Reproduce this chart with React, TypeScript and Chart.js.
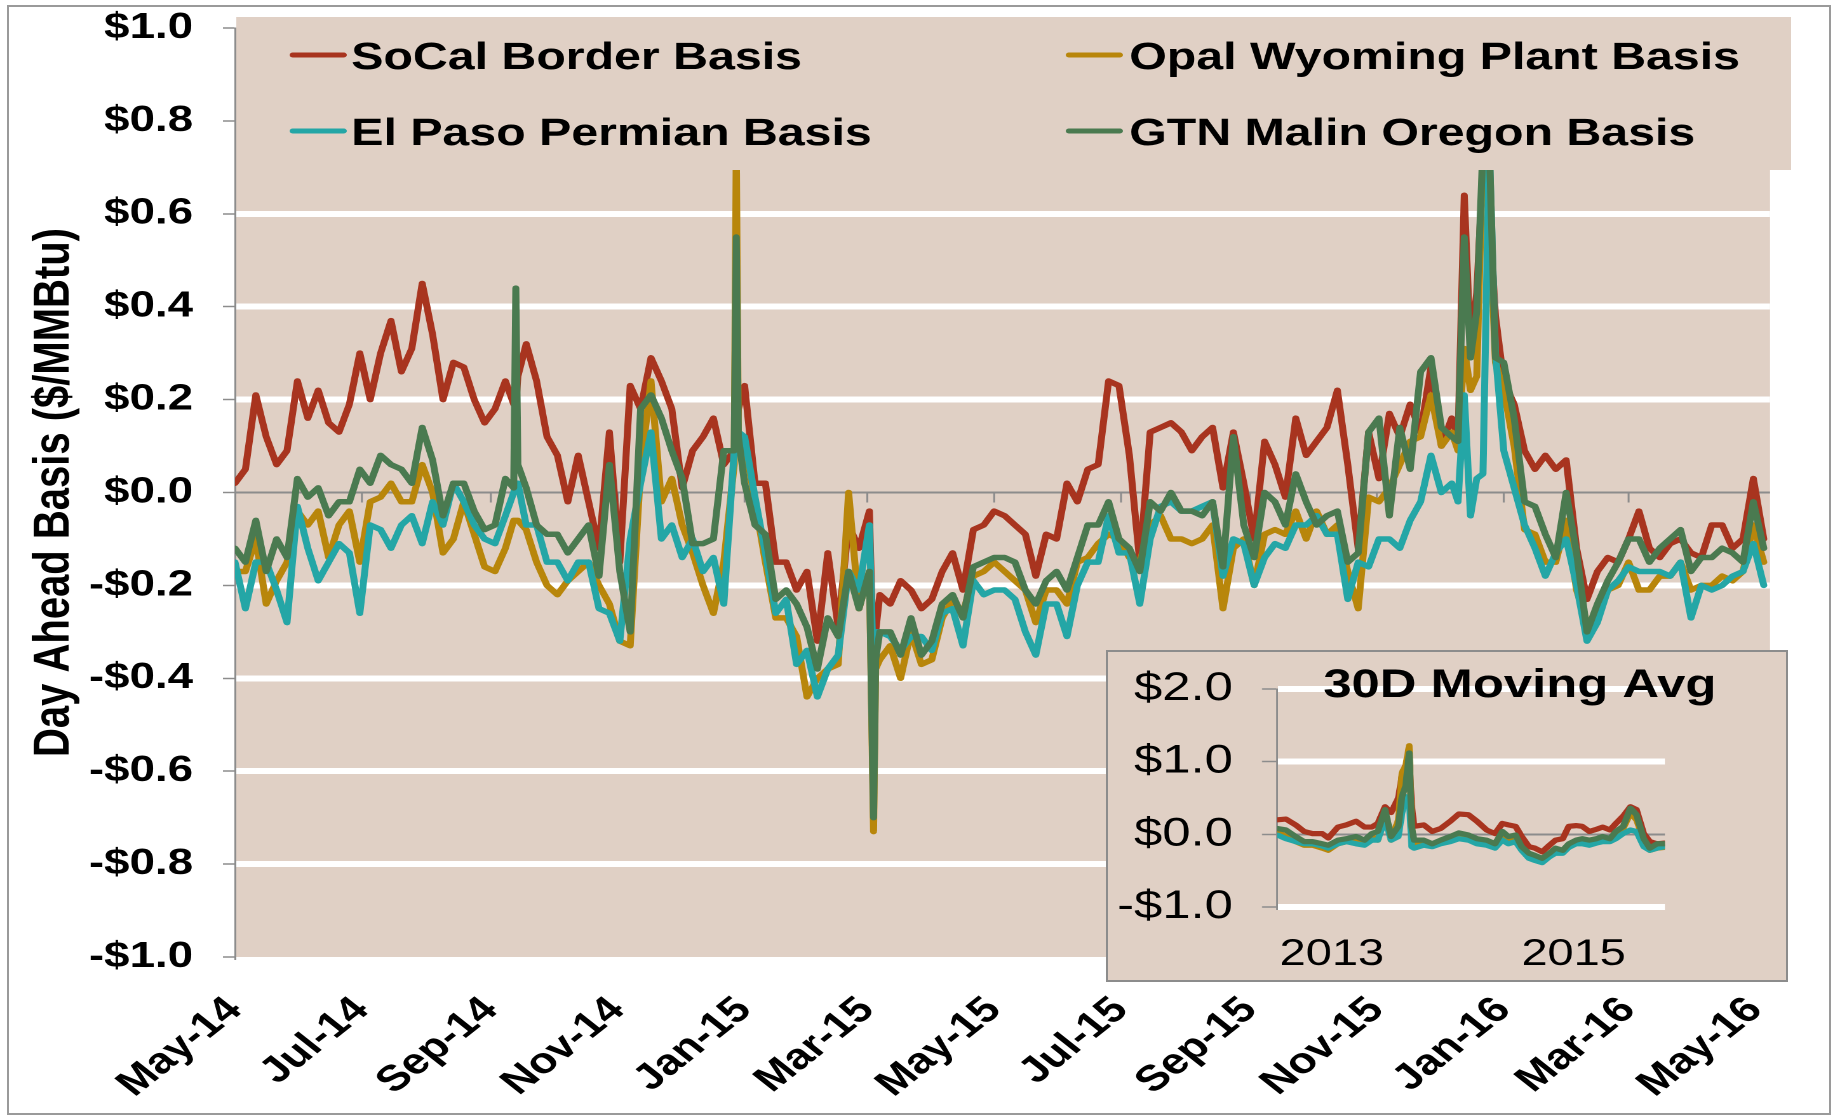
import React, { useEffect, useRef } from "react";
import { Chart, registerables } from "chart.js";

Chart.register(...registerables);

const FONT = "'Liberation Sans', Arial, Helvetica, sans-serif";

// ---------------- data ----------------
const seriesLabels = [
  "SoCal Border Basis",
  "Opal Wyoming Plant Basis",
  "El Paso Permian Basis",
  "GTN Malin Oregon Basis",
];
const seriesColors = ["#A8341F", "#B8860B", "#24A6A6", "#4A7A50"];

// x tick positions: days since 1 May 2014
const tickDays = [0, 61, 123, 184, 245, 304, 365, 426, 488, 549, 610, 670, 731];
const tickLabels = [
  "May-14", "Jul-14", "Sep-14", "Nov-14", "Jan-15", "Mar-15", "May-15",
  "Jul-15", "Sep-15", "Nov-15", "Jan-16", "Mar-16", "May-16",
];
const yTicks = [-1, -0.8, -0.6, -0.4, -0.2, 0, 0.2, 0.4, 0.6, 0.8, 1];

// observation days (days since 1 May 2014)
const days = [
  0, 5, 10, 15, 20, 25, 30, 35, 40, 45, 50, 55, 60, 65, 70, 75, 80, 85, 90, 95, 100, 105, 110, 115, 120, 125, 130,
  134, 135, 136,
  140, 145, 150, 155, 160, 165, 170, 175, 180, 185, 190, 195, 200, 205, 210, 215, 220, 225, 230, 235, 240,
  241, 242,
  245, 250, 255, 260, 265, 270, 275, 280, 285, 290, 295, 300, 305,
  307, 308,
  310, 315, 320, 325, 330, 335, 340, 345, 350, 355, 360, 365, 370, 375, 380, 385, 390, 395, 400, 405,
  410, 415, 420, 425, 430, 435, 440, 445, 450, 455, 460, 465, 470, 475, 480, 485, 490, 495, 500, 505,
  510, 515, 520, 525, 530, 535, 540, 545, 550, 555, 560, 565, 570, 575, 580, 585,
  588, 591, 594, 597, 600, 603, 606,
  610, 615,
  620, 625, 630, 635, 640, 645, 650, 655, 660, 665, 670, 675, 680, 685, 690, 695, 700, 705, 710, 715, 720, 725, 730, 735,
];

const socalBasis = [
  0.02, 0.05, 0.21, 0.12, 0.06, 0.09, 0.24, 0.16, 0.22, 0.15, 0.13, 0.19, 0.30, 0.20, 0.30, 0.37, 0.26, 0.31, 0.45, 0.34, 0.20, 0.28, 0.27, 0.20, 0.15, 0.18, 0.24,
  0.19, 0.19, 0.25,
  0.32, 0.24, 0.12, 0.08, -0.02, 0.08, -0.02, -0.12, 0.13, -0.15, 0.23, 0.18, 0.29, 0.24, 0.18, 0.01, 0.09, 0.12, 0.16, 0.06, 0.09,
  0.10, 0.18,
  0.23, 0.02, 0.02, -0.15, -0.15, -0.21, -0.17, -0.32, -0.13, -0.29, -0.07, -0.12, -0.04,
  -0.37, -0.30,
  -0.22, -0.24, -0.19, -0.21, -0.25, -0.23, -0.17, -0.13, -0.21, -0.08, -0.07, -0.04, -0.05, -0.07, -0.09, -0.18, -0.09, -0.10, 0.02, -0.02,
  0.05, 0.06, 0.24, 0.23, 0.08, -0.15, 0.13, 0.14, 0.15, 0.13, 0.09, 0.12, 0.14, 0.01, 0.13, 0.02, -0.10, 0.11, 0.06, -0.01,
  0.16, 0.08, 0.11, 0.14, 0.22, 0.06, -0.12, 0.13, 0.03, 0.17, 0.12, 0.19, 0.13, 0.27, 0.10, 0.16,
  0.12, 0.64, 0.31, 0.43, 0.70, 0.60, 0.38,
  0.24, 0.19,
  0.09, 0.05, 0.08, 0.05, 0.07, -0.12, -0.23, -0.17, -0.14, -0.15, -0.10, -0.04, -0.12, -0.14, -0.11, -0.10, -0.13, -0.14, -0.07, -0.07, -0.12, -0.10, 0.03, -0.10,
];

const opalBasis = [
  -0.17, -0.17, -0.10, -0.24, -0.19, -0.15, -0.04, -0.07, -0.04, -0.14, -0.07, -0.04, -0.15, -0.02, -0.01, 0.02, -0.02, -0.02, 0.06, 0.00, -0.13, -0.10, -0.02, -0.09, -0.16, -0.17, -0.12,
  -0.06, -0.06, -0.06,
  -0.08, -0.15, -0.20, -0.22, -0.19, -0.17, -0.15, -0.20, -0.24, -0.32, -0.33, 0.05, 0.24, -0.02, 0.03, -0.07, -0.13, -0.20, -0.26, -0.15, 0.06,
  0.75, 0.10,
  0.11, -0.02, -0.15, -0.27, -0.27, -0.31, -0.44, -0.40, -0.38, -0.37, 0.00, -0.25, -0.17,
  -0.73, -0.38,
  -0.36, -0.33, -0.40, -0.30, -0.37, -0.36, -0.27, -0.23, -0.26, -0.18, -0.17, -0.15, -0.17, -0.19, -0.21, -0.28, -0.21, -0.21, -0.24, -0.15,
  -0.14, -0.11, -0.09, -0.10, -0.14, -0.15, -0.07, -0.05, -0.10, -0.10, -0.11, -0.10, -0.07, -0.25, -0.12, -0.10, -0.20, -0.09, -0.08, -0.09,
  -0.04, -0.10, -0.04, -0.09, -0.07, -0.17, -0.25, -0.01, -0.02, 0.01, 0.06, 0.11, 0.12, 0.21, 0.10, 0.13,
  0.09, 0.31, 0.22, 0.25, 0.75, 0.60, 0.28,
  0.22, 0.10,
  -0.08, -0.09, -0.15, -0.15, -0.06, -0.21, -0.28, -0.27, -0.21, -0.20, -0.15, -0.21, -0.21, -0.18, -0.18, -0.15, -0.21, -0.20, -0.20, -0.18, -0.19, -0.17, -0.07, -0.15,
];

const elPasoBasis = [
  -0.15, -0.25, -0.15, -0.15, -0.21, -0.28, -0.03, -0.12, -0.19, -0.15, -0.11, -0.13, -0.26, -0.07, -0.08, -0.12, -0.07, -0.05, -0.11, -0.02, -0.07, 0.02, -0.02, -0.07, -0.10, -0.11, -0.05,
  0.00, 0.02, 0.02,
  -0.07, -0.07, -0.15, -0.15, -0.19, -0.15, -0.15, -0.25, -0.26, -0.32, -0.10, 0.02, 0.13, -0.10, -0.07, -0.14, -0.10, -0.17, -0.14, -0.24, 0.09,
  0.12, 0.13,
  0.12, -0.01, -0.13, -0.26, -0.23, -0.37, -0.34, -0.44, -0.38, -0.35, -0.17, -0.21, -0.07,
  -0.40, -0.30,
  -0.30, -0.31, -0.34, -0.31, -0.31, -0.34, -0.26, -0.25, -0.33, -0.19, -0.22, -0.21, -0.21, -0.23, -0.30, -0.35, -0.24, -0.24, -0.31, -0.20,
  -0.15, -0.15, -0.05, -0.13, -0.13, -0.24, -0.10, -0.03, -0.02, -0.04, -0.04, -0.03, -0.02, -0.18, -0.10, -0.11, -0.20, -0.14, -0.11, -0.12,
  -0.07, -0.07, -0.05, -0.09, -0.09, -0.23, -0.15, -0.16, -0.10, -0.10, -0.12, -0.06, -0.02, 0.08, 0.00, 0.02,
  -0.02, 0.21, -0.05, 0.03, 0.04, 0.75, 0.30,
  0.09, 0.01,
  -0.07, -0.12, -0.18, -0.13, -0.10, -0.20, -0.32, -0.28, -0.21, -0.19, -0.16, -0.17, -0.17, -0.17, -0.18, -0.15, -0.27, -0.20, -0.21, -0.20, -0.18, -0.17, -0.11, -0.20,
];

const gtnBasis = [
  -0.12, -0.15, -0.06, -0.17, -0.10, -0.14, 0.03, -0.01, 0.01, -0.05, -0.02, -0.02, 0.05, 0.02, 0.08, 0.06, 0.05, 0.02, 0.14, 0.07, -0.05, 0.02, 0.02, -0.04, -0.08, -0.07, 0.03,
  0.01, 0.44, 0.06,
  0.01, -0.07, -0.09, -0.09, -0.13, -0.10, -0.07, -0.18, 0.06, -0.17, -0.30, 0.18, 0.21, 0.16, 0.09, 0.03, -0.11, -0.11, -0.10, 0.09, 0.09,
  0.55, 0.12,
  0.02, -0.07, -0.09, -0.23, -0.21, -0.24, -0.29, -0.38, -0.27, -0.31, -0.17, -0.25, -0.17,
  -0.70, -0.36,
  -0.30, -0.30, -0.35, -0.27, -0.35, -0.32, -0.24, -0.22, -0.27, -0.16, -0.15, -0.14, -0.14, -0.15, -0.21, -0.24, -0.19, -0.17, -0.21, -0.14,
  -0.07, -0.07, -0.02, -0.10, -0.12, -0.17, -0.02, -0.04, 0.00, -0.04, -0.04, -0.05, -0.02, -0.16, 0.12, -0.07, -0.14, 0.00, -0.02, -0.07,
  0.04, -0.02, -0.07, -0.05, -0.04, -0.15, -0.13, 0.13, 0.16, -0.05, 0.14, 0.05, 0.26, 0.29, 0.14, 0.12,
  0.11, 0.55, 0.29, 0.39, 0.75, 0.75, 0.29,
  0.28, 0.16,
  -0.02, -0.03, -0.09, -0.14, 0.00, -0.13, -0.30, -0.24, -0.19, -0.15, -0.10, -0.10, -0.15, -0.12, -0.10, -0.08, -0.17, -0.14, -0.14, -0.12, -0.13, -0.15, -0.02, -0.12,
];

// inset: 30-day moving average (x in fractional years)
const insetYears = [
  2013.05, 2013.12, 2013.2, 2013.27, 2013.34, 2013.42, 2013.47, 2013.55, 2013.62, 2013.7,
  2013.77, 2013.83, 2013.88, 2013.94, 2013.99, 2014.05, 2014.08, 2014.11, 2014.14, 2014.16,
  2014.18, 2014.26, 2014.33, 2014.4, 2014.48, 2014.55, 2014.63, 2014.7, 2014.78, 2014.85,
  2014.91, 2014.96, 2015.02, 2015.07, 2015.13, 2015.18, 2015.24, 2015.3, 2015.35, 2015.41,
  2015.46, 2015.52, 2015.57, 2015.63, 2015.69, 2015.74, 2015.8, 2015.85, 2015.91, 2015.97,
  2016.02, 2016.08, 2016.13, 2016.19, 2016.25,
];
const insetSocal = [
  0.20, 0.21, 0.13, 0.04, 0.01, 0.01, -0.05, 0.10, 0.13, 0.18,
  0.10, 0.10, 0.15, 0.38, 0.30, 0.50, 0.80, 0.95, 1.05, 0.40,
  0.11, 0.13, 0.04, 0.08, 0.18, 0.28, 0.27, 0.18, 0.06, 0.01,
  0.15, 0.13, 0.11, -0.03, -0.17, -0.19, -0.24, -0.15, -0.08, -0.06,
  0.11, 0.12, 0.11, 0.04, 0.07, 0.10, 0.06, 0.15, 0.25, 0.38,
  0.34, 0.01, -0.10, -0.13, -0.12,
];
const insetOpal = [
  0.04, -0.03, -0.10, -0.15, -0.15, -0.19, -0.22, -0.13, -0.10, -0.08,
  -0.13, -0.03, -0.08, 0.27, -0.08, 0.20, 0.85, 0.94, 1.22, 0.11,
  -0.13, -0.13, -0.16, -0.12, -0.08, -0.03, -0.06, -0.10, -0.13, -0.17,
  -0.01, -0.08, -0.06, -0.19, -0.31, -0.33, -0.38, -0.30, -0.24, -0.24,
  -0.15, -0.10, -0.10, -0.13, -0.08, -0.08, -0.08, 0.01, 0.08, 0.29,
  0.20, -0.08, -0.22, -0.19, -0.18,
];
const insetElPaso = [
  -0.01, -0.06, -0.10, -0.13, -0.13, -0.16, -0.19, -0.13, -0.10, -0.13,
  -0.15, -0.08, -0.08, 0.20, -0.08, -0.03, 0.29, 0.52, 0.48, -0.17,
  -0.19, -0.15, -0.17, -0.13, -0.10, -0.06, -0.08, -0.13, -0.15, -0.19,
  -0.08, -0.13, -0.10, -0.22, -0.33, -0.36, -0.39, -0.31, -0.26, -0.26,
  -0.18, -0.13, -0.13, -0.15, -0.12, -0.10, -0.10, -0.06, 0.01, 0.06,
  0.04, -0.17, -0.22, -0.19, -0.17,
];
const insetGtn = [
  0.08, 0.06, -0.03, -0.10, -0.10, -0.13, -0.15, -0.08, -0.06, -0.03,
  -0.08, 0.01, 0.04, 0.34, -0.03, 0.11, 0.52, 0.66, 1.12, 0.11,
  -0.08, -0.08, -0.13, -0.08, -0.03, 0.02, -0.01, -0.06, -0.08, -0.13,
  0.04, -0.03, -0.01, -0.17, -0.26, -0.29, -0.33, -0.26, -0.19, -0.22,
  -0.13, -0.08, -0.06, -0.08, -0.06, -0.03, -0.06, 0.04, 0.11, 0.36,
  0.27, -0.06, -0.19, -0.13, -0.13,
];
const insetXTicks = [2013.5, 2015.5];
const insetXLabels = ["2013", "2015"];
const insetYTicks = [-1, 0, 1, 2];
const insetTitle = "30D Moving Avg";
const yAxisTitle = "Day Ahead Basis ($/MMBtu)";

// ---------------- helpers ----------------
const TAN = "#E0D0C5";
const AXIS_GRAY = "#8c8c8c";

function fmtDollar(v: number) {
  const r = Math.round(v * 10) / 10;
  return (r < 0 ? "-$" : "$") + Math.abs(r).toFixed(1);
}

const drawOrder = [3, 2, 1, 0]; // green on top, red at bottom

function buildDatasets(xs: number[], seriesList: number[][], width: number) {
  return seriesList.map((vals, i) => ({
    label: seriesLabels[i],
    data: xs.map((x, j) => ({ x, y: vals[j] })),
    borderColor: seriesColors[i],
    backgroundColor: seriesColors[i],
    borderWidth: width,
    pointRadius: 0,
    pointHoverRadius: 0,
    tension: 0,
    borderJoinStyle: "round",
    borderCapStyle: "round",
    fill: false,
    order: drawOrder[i],
  }));
}

function noPad(s: any) {
  s.paddingTop = 0;
  s.paddingBottom = 0;
  s.paddingLeft = 0;
  s.paddingRight = 0;
}

function mainConfig(): any {
  const plotBg = {
    id: "plotBg",
    beforeDraw(chart: any) {
      const { ctx, chartArea: a } = chart;
      ctx.save();
      ctx.fillStyle = TAN;
      ctx.fillRect(a.left + 1, a.top, a.right - a.left - 1, a.bottom - a.top);
      ctx.restore();
    },
  };
  const zeroTicks = {
    id: "zeroTicks",
    beforeDatasetsDraw(chart: any) {
      const { ctx } = chart;
      const xs = chart.scales.x;
      const y0 = chart.scales.y.getPixelForValue(0);
      ctx.save();
      ctx.strokeStyle = AXIS_GRAY;
      ctx.lineWidth = 1.5;
      for (const d of tickDays) {
        if (d === 0) continue;
        const px = xs.getPixelForValue(d);
        ctx.beginPath();
        ctx.moveTo(px, y0);
        ctx.lineTo(px, y0 + 10);
        ctx.stroke();
      }
      ctx.restore();
    },
  };
  const legendBox = {
    id: "legendBox",
    afterDatasetsDraw(chart: any) {
      const { ctx } = chart;
      ctx.save();
      ctx.fillStyle = TAN;
      ctx.fillRect(186, 17, 1410 - 186, 170 - 17);
      const items = [
        { i: 0, lx: 230.5, tx: 276.5, cy: 55 },
        { i: 1, lx: 841.5, tx: 889, cy: 55 },
        { i: 2, lx: 230.5, tx: 276.5, cy: 131 },
        { i: 3, lx: 841.5, tx: 889, cy: 131 },
      ];
      ctx.font = `bold 38px ${FONT}`;
      ctx.textAlign = "left";
      ctx.textBaseline = "alphabetic";
      for (const it of items) {
        ctx.strokeStyle = seriesColors[it.i];
        ctx.lineWidth = 5;
        ctx.lineCap = "round";
        ctx.beginPath();
        ctx.moveTo(it.lx, it.cy);
        ctx.lineTo(it.lx + 40, it.cy);
        ctx.stroke();
        ctx.fillStyle = "#000";
        ctx.fillText(seriesLabels[it.i], it.tx, it.cy + 14);
      }
      ctx.restore();
    },
  };
  const yTitle = {
    id: "yTitle",
    afterDraw(chart: any) {
      const { ctx } = chart;
      ctx.save();
      ctx.translate(54.1, 492.5);
      ctx.rotate(-Math.PI / 2);
      ctx.font = `bold 40px ${FONT}`;
      ctx.fillStyle = "#000";
      ctx.textAlign = "center";
      ctx.textBaseline = "alphabetic";
      ctx.fillText(yAxisTitle, 0, 0);
      ctx.restore();
    },
  };

  return {
    type: "line",
    data: {
      datasets: buildDatasets(days, [socalBasis, opalBasis, elPasoBasis, gtnBasis], 5.5),
    },
    options: {
      responsive: false,
      animation: false,
      devicePixelRatio: 2,
      events: [],
      layout: { padding: { left: 18, right: 49.6, top: 28, bottom: 0 } },
      plugins: { legend: { display: false }, tooltip: { enabled: false }, title: { display: false } },
      scales: {
        x: {
          type: "linear",
          min: 0,
          max: 738,
          afterBuildTicks: (s: any) => {
            s.ticks = tickDays.map((v) => ({ value: v }));
          },
          afterFit: (s: any) => {
            s.height = 158;
            noPad(s);
          },
          ticks: {
            autoSkip: false,
            minRotation: 45,
            maxRotation: 45,
            padding: 32,
            color: "#000",
            font: { family: FONT, size: 36, weight: "bold" },
            callback: (_v: any, i: number) => tickLabels[i],
          },
          grid: { display: false, drawTicks: false },
          border: { display: false },
        },
        y: {
          type: "linear",
          min: -1,
          max: 1,
          afterBuildTicks: (s: any) => {
            s.ticks = yTicks.map((v) => ({ value: v }));
          },
          afterFit: (s: any) => {
            s.width = 167;
            noPad(s);
          },
          ticks: {
            padding: 23.5,
            color: "#000",
            font: { family: FONT, size: 36, weight: "bold" },
            callback: (v: any) => fmtDollar(Number(v)),
          },
          grid: {
            color: (c: any) => {
              const v = c.tick ? c.tick.value : 1;
              if (Math.abs(v) < 1e-9) return AXIS_GRAY;
              if (v < -0.99) return "rgba(0,0,0,0)";
              return "#ffffff";
            },
            lineWidth: (c: any) => {
              const v = c.tick ? c.tick.value : 1;
              return Math.abs(v) < 1e-9 ? 2 : 6;
            },
            tickColor: AXIS_GRAY,
            tickWidth: 1.5,
            tickLength: 9.5,
            drawTicks: true,
          },
          border: { display: true, color: AXIS_GRAY, width: 1.5 },
        },
      },
    },
    plugins: [plotBg, zeroTicks, legendBox, yTitle],
  };
}

function insetConfig(): any {
  const title = {
    id: "insetTitle",
    afterDraw(chart: any) {
      const { ctx } = chart;
      ctx.save();
      ctx.font = `bold 40px ${FONT}`;
      ctx.fillStyle = "#000";
      ctx.textAlign = "center";
      ctx.textBaseline = "alphabetic";
      ctx.fillText(insetTitle, 324.4, 45);
      ctx.restore();
    },
  };
  return {
    type: "line",
    data: {
      datasets: buildDatasets(insetYears, [insetSocal, insetOpal, insetElPaso, insetGtn], 5.2),
    },
    options: {
      responsive: false,
      animation: false,
      devicePixelRatio: 2,
      events: [],
      layout: { padding: { left: 0, right: 95.4, top: 37, bottom: 0 } },
      plugins: { legend: { display: false }, tooltip: { enabled: false }, title: { display: false } },
      scales: {
        x: {
          type: "linear",
          min: 2013.046,
          max: 2016.255,
          afterBuildTicks: (s: any) => {
            s.ticks = insetXTicks.map((v) => ({ value: v }));
          },
          afterFit: (s: any) => {
            s.height = 73;
            noPad(s);
          },
          ticks: {
            autoSkip: false,
            minRotation: 0,
            maxRotation: 0,
            padding: 25.8,
            color: "#000",
            font: { family: FONT, size: 37, weight: "normal" },
            callback: (_v: any, i: number) => insetXLabels[i],
          },
          grid: { display: false, drawTicks: false },
          border: { display: false },
        },
        y: {
          type: "linear",
          min: -1,
          max: 2,
          afterBuildTicks: (s: any) => {
            s.ticks = insetYTicks.map((v) => ({ value: v }));
          },
          afterFit: (s: any) => {
            s.width = 133.1;
            noPad(s);
          },
          ticks: {
            padding: 22.9,
            color: "#000",
            font: { family: FONT, size: 40, weight: "normal" },
            callback: (v: any) => fmtDollar(Number(v)),
          },
          grid: {
            color: (c: any) => {
              const v = c.tick ? c.tick.value : 1;
              return Math.abs(v) < 1e-9 ? AXIS_GRAY : "#ffffff";
            },
            lineWidth: (c: any) => {
              const v = c.tick ? c.tick.value : 1;
              return Math.abs(v) < 1e-9 ? 2 : 6;
            },
            tickColor: AXIS_GRAY,
            tickWidth: 1.5,
            tickLength: 11.8,
            drawTicks: true,
          },
          border: { display: true, color: AXIS_GRAY, width: 1.5 },
        },
      },
    },
    plugins: [title],
  };
}

export default function App() {
  const mainRef = useRef<HTMLCanvasElement>(null);
  const insetRef = useRef<HTMLCanvasElement>(null);

  useEffect(() => {
    const main = new Chart(mainRef.current as HTMLCanvasElement, mainConfig());
    const inset = new Chart(insetRef.current as HTMLCanvasElement, insetConfig());
    return () => {
      main.destroy();
      inset.destroy();
    };
  }, []);

  return (
    <div
      style={{
        position: "absolute",
        left: 0,
        top: 0,
        width: 1833,
        height: 1115,
        overflow: "hidden",
        background: "#ffffff",
      }}
    >
      <canvas
        ref={mainRef}
        width={1443}
        height={1115}
        style={{ position: "absolute", left: 0, top: 0, width: "1833px", height: "1115px" }}
      />
      <div
        style={{
          position: "absolute",
          left: 1106,
          top: 650,
          width: 682,
          height: 332,
          boxSizing: "border-box",
          border: `2px solid ${AXIS_GRAY}`,
          background: TAN,
        }}
      >
        <canvas
          ref={insetRef}
          width={534}
          height={328}
          style={{ display: "block", width: "678px", height: "328px" }}
        />
      </div>
      <div
        style={{
          position: "absolute",
          left: 7,
          top: 5,
          width: 1824,
          height: 1110,
          boxSizing: "border-box",
          border: "2px solid #9a9a9a",
          pointerEvents: "none",
        }}
      />
    </div>
  );
}
